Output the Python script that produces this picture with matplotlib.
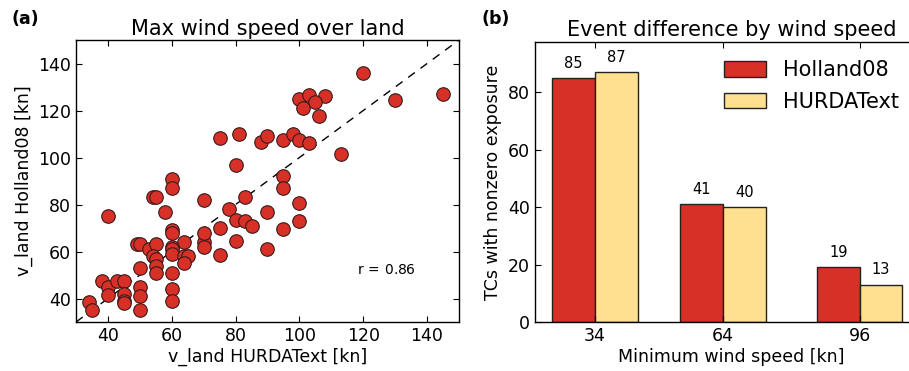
import numpy as np
import matplotlib
matplotlib.use("Agg")
import matplotlib.pyplot as plt

# Panel (a): max wind speed over land [kn]
v_hurdat = [80, 60, 60, 54, 55, 70, 58, 40, 83, 78, 90, 80, 83, 85, 75,
            60, 60, 70, 70, 70, 80, 90, 75, 64, 60, 60, 60, 60, 60, 60,
            64, 65, 64, 49, 50, 53, 55, 54, 55, 55, 50, 55, 38, 40, 43,
            45, 40, 45, 45, 45, 50, 50, 50, 34, 35,
            75, 81, 88, 90, 120, 130, 145, 100, 103, 108, 105, 101, 106,
            95, 98, 100, 103, 113, 95, 95, 100, 100, 95]
v_holland = [97, 91, 87, 83, 83, 82, 77, 75, 83, 78, 77, 73.5, 73, 71, 70,
             69, 68, 64, 62, 68, 64.5, 61, 58.5, 64, 62, 61, 59, 51, 44, 39,
             58, 58, 55, 63, 63, 61, 63, 58, 57, 54, 53, 51, 47.5, 45, 47.5,
             47.5, 41.5, 42, 39, 38, 45, 41, 35, 38.5, 35,
             108.5, 110, 106.5, 109, 136, 124.5, 127, 125, 126.5, 126, 123.5,
             121, 117.5, 107.5, 110, 107.5, 106, 101.5, 92, 87, 80.5, 73, 69.5]
r_value = 0.86

# Panel (b): number of TCs with nonzero exposure
min_speed = [34, 64, 96]
holland_counts = [85, 41, 19]
hurdat_counts = [87, 40, 13]

RED = "#d73027"
YELLOW = "#fee090"

plt.rcParams.update({
    "font.family": "DejaVu Sans",
    "xtick.labelsize": 12.5,
    "ytick.labelsize": 12.5,
    "axes.linewidth": 1.0,
})

fig = plt.figure(figsize=(9.09, 3.71), dpi=100)

# (a) scatter
ax1 = fig.add_axes([0.0836, 0.132, 0.4213, 0.760])
ax1.plot([30, 150], [30, 150], ls="--", color="k", lw=1.0, dashes=(6, 5))
ax1.scatter(v_hurdat, v_holland, s=95, c=RED, edgecolors="#3a1a1a",
            linewidths=0.8, zorder=3)
ax1.set_xlim(30, 150)
ax1.set_ylim(30, 150)
ax1.set_xticks([40, 60, 80, 100, 120, 140])
ax1.set_yticks([40, 60, 80, 100, 120, 140])
ax1.tick_params(direction="in", top=True, right=True, length=4)
ax1.set_xlabel("v_land HURDAText [kn]", fontsize=12.5, labelpad=2)
ax1.set_ylabel("v_land Holland08 [kn]", fontsize=12.5, labelpad=4)
ax1.set_title("Max wind speed over land", fontsize=15, pad=4)
ax1.text(118, 52, "r$\\,=\\,$%.2f" % r_value, fontsize=10, va="center")
fig.text(0.013, 0.973, "(a)", fontsize=12.5, fontweight="bold", va="top")

# (b) bars, axes runs slightly past the right edge of the figure
ax2 = fig.add_axes([0.5886, 0.132, 0.4323, 0.755])
x = np.array(min_speed)
b1 = ax2.bar(x - 10, holland_counts, width=10, align="edge",
             color=RED, edgecolor="#222222", lw=1.0, label="Holland08")
b2 = ax2.bar(x, hurdat_counts, width=10, align="edge",
             color=YELLOW, edgecolor="#222222", lw=1.0, label="HURDAText")
for bars, vals in [(b1, holland_counts), (b2, hurdat_counts)]:
    for rect, v in zip(bars, vals):
        ax2.text(rect.get_x() + rect.get_width() / 2, v + 2.5, str(v),
                 ha="center", va="bottom", fontsize=10.5)
ax2.set_xlim(20, 112)
ax2.set_ylim(0, 97.5)
ax2.set_xticks(min_speed)
ax2.set_yticks([0, 20, 40, 60, 80])
ax2.tick_params(direction="in", top=True, right=True, length=4)
ax2.set_xlabel("Minimum wind speed [kn]", fontsize=12.5, labelpad=2)
ax2.set_ylabel("TCs with nonzero exposure", fontsize=12.5, labelpad=4)
ax2.set_title("Event difference by wind speed", fontsize=15, pad=4)
ax2.legend(loc="upper right", bbox_to_anchor=(907 / 909, 0.86),
           bbox_transform=fig.transFigure, frameon=False, fontsize=15,
           handlelength=2.0, handleheight=0.8, borderaxespad=0.0,
           labelspacing=0.55)
fig.text(0.530, 0.973, "(b)", fontsize=12.5, fontweight="bold", va="top")

fig.savefig("out.png", dpi=100)
